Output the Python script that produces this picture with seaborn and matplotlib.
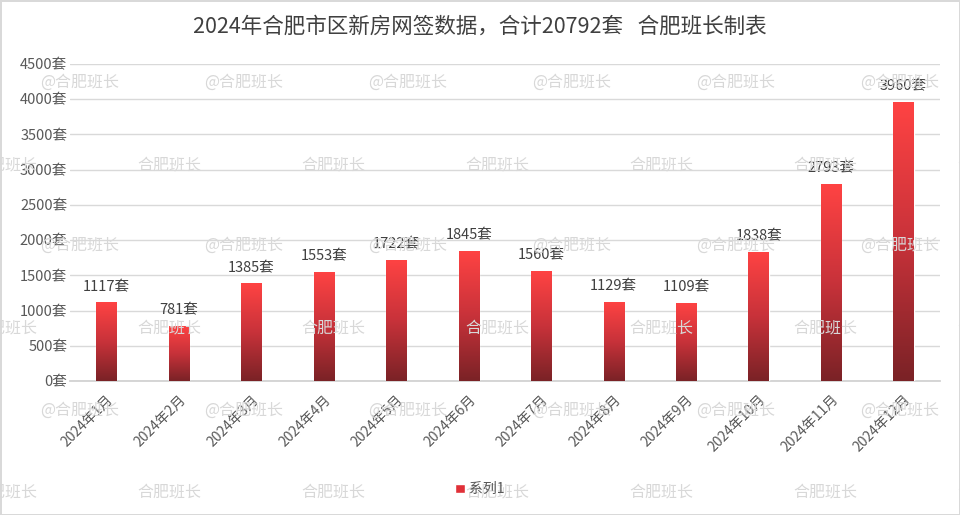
import numpy as np
import pandas as pd
import matplotlib
matplotlib.use("Agg")
import matplotlib.pyplot as plt
import seaborn as sns
from matplotlib.colors import LinearSegmentedColormap
from matplotlib.patches import Patch

months = ["2024年1月", "2024年2月", "2024年3月", "2024年4月", "2024年5月", "2024年6月",
          "2024年7月", "2024年8月", "2024年9月", "2024年10月", "2024年11月", "2024年12月"]
sales = [1117, 781, 1385, 1553, 1722, 1845, 1560, 1129, 1109, 1838, 2793, 3960]
title = "2024年合肥市区新房网签数据，合计20792套   合肥班长制表"

sns.set_theme(style="white")
plt.rcParams['font.family'] = ['Noto Sans CJK SC', 'DejaVu Sans']

df = pd.DataFrame({"month": months, "sales": sales})

fig = plt.figure(figsize=(9.6, 5.15), dpi=100)
ax = fig.add_axes([0.073, 0.26, 0.906, 0.616])

sns.barplot(data=df, x="month", y="sales", color="#ff4040", width=0.28, ax=ax,
            saturation=1, zorder=3)

# gradient fill for each bar
cmap = LinearSegmentedColormap.from_list("bar", ["#7a2226", "#c8323a", "#ff4343"])
grad = np.linspace(0, 1, 256).reshape(-1, 1)
for p in ax.patches:
    x0, y0 = p.get_x(), p.get_y()
    w, h = p.get_width(), p.get_height()
    im = ax.imshow(grad, cmap=cmap, origin="lower", aspect="auto",
                   extent=(x0, x0 + w, y0, y0 + h), zorder=4)
    im.set_clip_path(p)
    ax.text(x0 + w / 2, h + 120, f"{int(h)}套", ha="center", va="bottom",
            fontsize=10.5, color="#404040", zorder=6)

ax.set_xlim(-0.5, len(months) - 0.5)
ax.set_ylim(0, 4500)
ax.set_yticks(range(0, 4501, 500))
ax.set_yticklabels([f"{v}套" for v in range(0, 4501, 500)], fontsize=10.5, color="#595959")
ax.yaxis.grid(True, color="#d9d9d9", linewidth=1, zorder=0)
ax.set_xticks(range(len(months)))
ax.set_xticklabels(months, rotation=45, ha="right", rotation_mode="anchor",
                   fontsize=10, color="#595959")
ax.set_xticks(np.arange(-0.5, len(months), 1), minor=True)
ax.tick_params(axis="x", which="major", length=0, pad=8)
ax.tick_params(axis="x", which="minor", length=5, color="#d0d0d0", width=1, direction="out")
ax.tick_params(axis="y", length=0, pad=2)
ax.set_xlabel("")
ax.set_ylabel("")
for s in ["top", "right", "left"]:
    ax.spines[s].set_visible(False)
ax.spines["bottom"].set_color("#d0d0d0")

fig.text(0.5, 0.948, title, ha="center", va="center", fontsize=15.5, color="#404040")

fig.legend(handles=[Patch(facecolor="#e03038", label="系列1")], loc="center",
           bbox_to_anchor=(0.5, 0.05), frameon=False, fontsize=10,
           handlelength=0.7, handleheight=0.7, handletextpad=0.3,
           labelcolor="#595959")

# watermark
for r, yp in enumerate([82, 165, 245, 328, 410, 492]):
    tag = "@合肥班长" if r % 2 == 0 else "合肥班长"
    x_start = 40 if r % 2 == 0 else -35
    for k in range(7):
        xp = x_start + k * 164
        fig.text((xp + 40) / 960, 1 - yp / 515, tag, ha="center", va="center",
                 fontsize=11.5, color="#d8d8d8", zorder=1)

fig.patch.set_edgecolor("#d9d9d9")
fig.patch.set_linewidth(2)
fig.savefig("out.png", dpi=100, edgecolor=fig.get_edgecolor())
